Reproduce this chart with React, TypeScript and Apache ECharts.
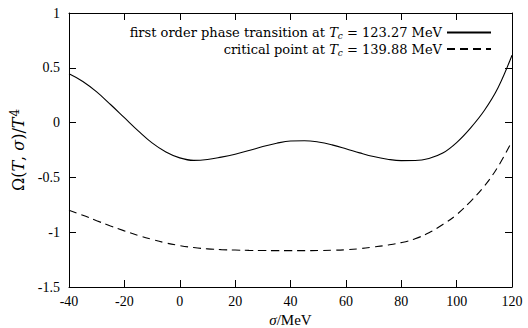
import React, { useEffect, useRef } from "react";
import * as echarts from "echarts";

const sigma = [-40, -35, -30, -25, -20, -15, -10, -5, 0, 5, 10, 15, 20, 25, 30, 35, 40, 45, 50, 55, 60, 65, 70, 75, 80, 85, 90, 95, 100, 105, 110, 115, 120];
const firstOrder = [0.445, 0.375, 0.28, 0.165, 0.045, -0.075, -0.185, -0.268, -0.322, -0.345, -0.337, -0.315, -0.288, -0.255, -0.218, -0.188, -0.168, -0.165, -0.177, -0.203, -0.238, -0.276, -0.31, -0.334, -0.347, -0.346, -0.327, -0.278, -0.182, -0.05, 0.11, 0.32, 0.615];
const criticalPoint = [-0.8, -0.845, -0.895, -0.943, -0.988, -1.03, -1.066, -1.098, -1.122, -1.14, -1.152, -1.159, -1.163, -1.166, -1.167, -1.168, -1.168, -1.168, -1.167, -1.165, -1.16, -1.15, -1.135, -1.118, -1.095, -1.06, -1.005, -0.93, -0.84, -0.72, -0.58, -0.4, -0.17];
const seriesNames = ["first order phase transition at {i|T}{s|c} = 123.27 MeV", "critical point at {i|T}{s|c} = 139.88 MeV"];

const FONT = "'Liberation Serif', 'DejaVu Serif', serif";
const LFONT = "'DejaVu Serif', 'Liberation Serif', serif";

export default function App() {
  const ref = useRef<HTMLDivElement>(null);
  useEffect(() => {
    const chart = echarts.init(ref.current!, null, { renderer: "svg" });
    const mkRich = (f: string, size: number) => ({
      i: { fontFamily: f, fontStyle: "italic", fontSize: size, color: "#000" },
      s: { fontFamily: f, fontStyle: "italic", fontSize: size - 4, color: "#000", verticalAlign: "bottom", padding: [7, 0, 0, 0] },
      sup: { fontFamily: f, fontSize: size - 4, color: "#000", verticalAlign: "top", padding: [0, 0, 7, 1] },
    });
    const tickCommon = { show: true, inside: true, length: 7, lineStyle: { color: "#000", width: 1 } };
    const lineCommon = { show: true, onZero: false, lineStyle: { color: "#000", width: 1 } };
    chart.setOption({
      animation: false,
      backgroundColor: "#fff",
      grid: { left: 69, right: 16, top: 13, bottom: 41, containLabel: false, outerBoundsMode: "none" },
      legend: {
        orient: "vertical",
        right: 31,
        top: 21,
        align: "right",
        itemWidth: 44,
        itemHeight: 10,
        itemGap: 2,
        selectedMode: false,
        itemStyle: { opacity: 0 },
        textStyle: { fontFamily: LFONT, fontSize: 13, color: "#000", rich: mkRich(LFONT, 13) },
        data: seriesNames,
      },
      xAxis: [
        {
          type: "value",
          min: -40,
          max: 120,
          interval: 20,
          position: "bottom",
          axisLine: lineCommon,
          axisTick: tickCommon,
          splitLine: { show: false },
          axisLabel: { fontFamily: FONT, fontSize: 14, color: "#000", margin: 7 },
          name: "{i|σ}/MeV",
          nameLocation: "middle",
          nameGap: 23,
          nameTextStyle: { fontFamily: FONT, fontSize: 15, color: "#000", rich: mkRich(FONT, 15) },
        },
        {
          type: "value",
          min: -40,
          max: 120,
          interval: 20,
          position: "top",
          axisLine: lineCommon,
          axisTick: tickCommon,
          splitLine: { show: false },
          axisLabel: { show: false },
        },
      ],
      yAxis: [
        {
          type: "value",
          min: -1.5,
          max: 1,
          interval: 0.5,
          position: "left",
          axisLine: lineCommon,
          axisTick: tickCommon,
          splitLine: { show: false },
          axisLabel: { fontFamily: FONT, fontSize: 14, color: "#000", margin: 9 },
          name: "Ω({i|T}, {i|σ})/{i|T}{sup|4}",
          nameLocation: "middle",
          nameRotate: 90,
          nameGap: 37,
          nameTextStyle: { fontFamily: LFONT, fontSize: 16, color: "#000", rich: mkRich(LFONT, 16) },
        },
        {
          type: "value",
          min: -1.5,
          max: 1,
          interval: 0.5,
          position: "right",
          axisLine: lineCommon,
          axisTick: tickCommon,
          splitLine: { show: false },
          axisLabel: { show: false },
        },
      ],
      series: [
        {
          name: seriesNames[0],
          type: "line",
          smooth: 0.4,
          showSymbol: false,
          symbol: "none",
          data: sigma.map((s, k) => [s, firstOrder[k]]),
          lineStyle: { color: "#000", width: 1.1, type: "solid" },
          itemStyle: { color: "#000" },
        },
        {
          name: seriesNames[1],
          type: "line",
          smooth: 0.4,
          showSymbol: false,
          symbol: "none",
          data: sigma.map((s, k) => [s, criticalPoint[k]]),
          lineStyle: { color: "#000", width: 1.1, type: [8, 5] },
          itemStyle: { color: "#000" },
        },
      ],
    });
    return () => chart.dispose();
  }, []);
  return <div ref={ref} style={{ position: "fixed", left: 0, top: 0, width: 528, height: 328 }} />;
}
